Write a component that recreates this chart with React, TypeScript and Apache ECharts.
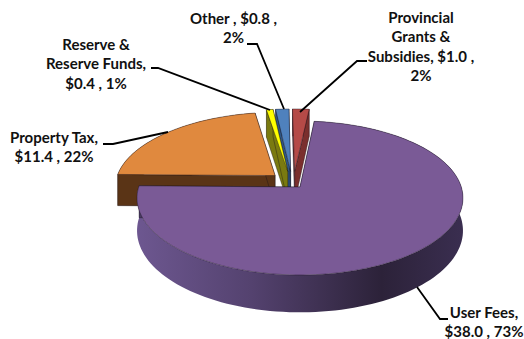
import React, { useEffect, useRef } from "react";
import * as echarts from "echarts";

// Revenue sources in $ millions, listed clockwise from the top of the pie.
const sliceNames = ["User Fees", "Property Tax", "Reserve & Reserve Funds", "Other", "Provincial Grants & Subsidies"];
const sliceValues = [38.0, 11.4, 0.4, 0.8, 1.0];
const slicePercents = [73, 22, 1, 2, 2];

const topColors = ["#7a5a96", "#e0893e", "#ffff00", "#4f81bd", "#b54a47"];
const faceColors = ["#4a3a63", "#5a3416", "#7a7a10", "#2f5582", "#7a2f2d"];

// Exploded slices are displaced in the plane of the disc (x to the right, y towards the viewer).
const explodeOffsets = [
  [0, 0],
  [-0.158, -0.155],
  [-0.078, -0.213],
  [-0.06, -0.215],
  [-0.034, -0.215],
];

// Projection of the tilted disc.
const PIVOT_X = 300;
const PIVOT_Y = 187;
const RADIUS_X = 161.3;
const RADIUS_Y = 75.4;
const PERSPECTIVE = 1 / 7;
const THICKNESS = 32;
const START_ANGLE = 5.8;

const project = (x: number, y: number) => {
  const w = 1 - PERSPECTIVE * y;
  return { px: PIVOT_X + (RADIUS_X * x) / w, py: PIVOT_Y + (RADIUS_Y * y) / w, drop: THICKNESS / w };
};

const total = sliceValues.reduce((a, b) => a + b, 0);

const labelLines: { lines: string[]; x: number; y: number }[] = [
  { lines: ["User Fees,", `$${sliceValues[0].toFixed(1)} , ${slicePercents[0]}%`], x: 484, y: 312 },
  { lines: ["Property Tax,", `$${sliceValues[1].toFixed(1)} , ${slicePercents[1]}%`], x: 54, y: 137 },
  { lines: ["Reserve &", "Reserve Funds,", `$${sliceValues[2].toFixed(1)} , ${slicePercents[2]}%`], x: 96, y: 44 },
  { lines: [`Other , $${sliceValues[3].toFixed(1)} ,`, `${slicePercents[3]}%`], x: 233.5, y: 18 },
  { lines: ["Provincial", "Grants &", `Subsidies, $${sliceValues[4].toFixed(1)} ,`, `${slicePercents[4]}%`], x: 421, y: 17 },
];

const leaderLines = [
  [[417, 287], [440, 319], [448, 319]],
  [[168, 132], [113, 144], [103, 144]],
  [[270, 110], [158, 68], [151, 68]],
  [[284, 109], [257, 44], [247, 44]],
  [[300, 112], [357, 61], [367, 61]],
];

const LINE_HEIGHT = 19.4;

function renderSlice(params: any, api: any) {
  const idx = api.value(0) as number;
  const before = sliceValues.slice(0, idx).reduce((a, b) => a + b, 0);
  const from = START_ANGLE + (before / total) * 360;
  const to = from + (api.value(1) / total) * 360;
  const [ox, oy] = explodeOffsets[idx];
  const apex = project(ox, oy);

  const arc: { px: number; py: number; drop: number }[] = [];
  const steps = Math.max(4, Math.ceil((to - from) / 2));
  for (let i = 0; i <= steps; i++) {
    const t = ((from + ((to - from) * i) / steps) * Math.PI) / 180;
    arc.push(project(ox + Math.sin(t), oy - Math.cos(t)));
  }
  const first = arc[0];
  const last = arc[arc.length - 1];
  const outline = { stroke: "rgba(20,15,25,0.55)", lineWidth: 0.7 };
  const poly = (points: number[][], fill: any, style: any = {}) => ({
    type: "polygon",
    shape: { points },
    style: { fill, ...style },
  });
  const wallFill =
    idx === 0
      ? new echarts.graphic.LinearGradient(0, 0, 1, 0, [
          { offset: 0, color: "#6d5790" },
          { offset: 0.35, color: "#54426f" },
          { offset: 0.75, color: "#2c2239" },
          { offset: 1, color: "#3a2e50" },
        ])
      : faceColors[idx];
  const wall = [
    ...arc.map((p) => [p.px, p.py]),
    ...arc
      .slice()
      .reverse()
      .map((p) => [p.px, p.py + p.drop]),
  ];
  const cutFace = (edge: { px: number; py: number; drop: number }) =>
    poly(
      [
        [apex.px, apex.py],
        [edge.px, edge.py],
        [edge.px, edge.py + edge.drop],
        [apex.px, apex.py + apex.drop],
      ],
      faceColors[idx],
      outline,
    );
  const top = [[apex.px, apex.py], ...arc.map((p) => [p.px, p.py])];
  return {
    type: "group",
    children: [poly(wall, wallFill), cutFace(first), cutFace(last), poly(top, topColors[idx], outline)],
  };
}

const buildOption = () => ({
  animation: false,
  backgroundColor: "#ffffff",
  series: [
    {
      type: "custom",
      coordinateSystem: "none",
      silent: true,
      renderItem: renderSlice,
      // Painted from the back of the pie to the front.
      data: sliceValues.map((v, i) => [i, v, sliceNames[i]]).reverse(),
    },
  ],
  graphic: [
    ...leaderLines.map((points) => ({
      type: "polyline",
      silent: true,
      z: 10,
      shape: { points },
      style: { stroke: "#000", lineWidth: 1.8, fill: "none" },
    })),
    ...labelLines.flatMap((label) =>
      label.lines.map((text, i) => ({
        type: "text",
        silent: true,
        z: 11,
        x: label.x,
        y: label.y + i * LINE_HEIGHT,
        style: {
          text,
          fill: "#111",
          font: 'bold 15px Lato, "Open Sans", sans-serif',
          textAlign: "center",
          textVerticalAlign: "middle",
        },
      })),
    ),
  ],
});

export default function App() {
  const ref = useRef<HTMLDivElement>(null);
  useEffect(() => {
    const chart = echarts.init(ref.current!, undefined, { renderer: "svg" });
    chart.setOption(buildOption() as any);
    return () => chart.dispose();
  }, []);
  return <div ref={ref} style={{ position: "fixed", left: 0, top: 0, width: 524, height: 339 }} />;
}
